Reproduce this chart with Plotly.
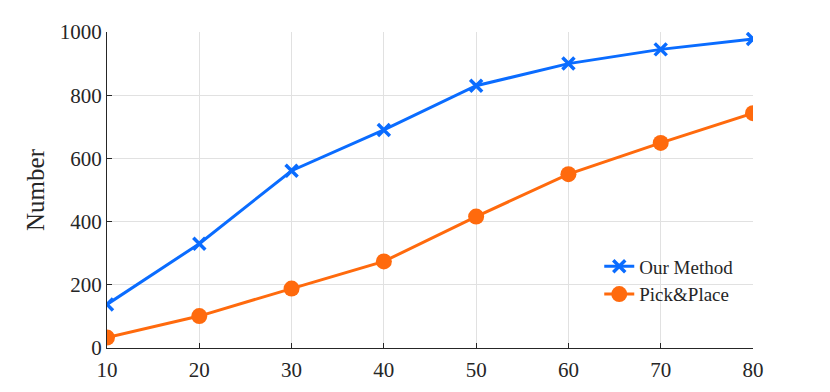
import plotly.graph_objects as go

x_vals = [10, 20, 30, 40, 50, 60, 70, 80]
our_method = [138, 330, 561, 690, 830, 900, 945, 978]
pick_place = [33, 101, 188, 274, 416, 550, 649, 743]
x_ticks = [10, 20, 30, 40, 50, 60, 70, 80]
y_ticks = [0, 200, 400, 600, 800, 1000]

fig = go.Figure()
fig.add_trace(go.Scatter(x=x_vals, y=our_method, name='Our Method', mode='lines+markers',
                         line=dict(color='#0A6CFF', width=3),
                         marker=dict(symbol='x-thin', size=12, line=dict(color='#0A6CFF', width=3.5))))
fig.add_trace(go.Scatter(x=x_vals, y=pick_place, name='Pick&Place', mode='lines+markers',
                         line=dict(color='#FF6A0D', width=3),
                         marker=dict(symbol='circle', size=16, color='#FF6A0D')))

# page body has an 8px margin, so the margins are shifted to compensate
fig.update_layout(
    width=830, height=392,
    margin=dict(l=99, r=85, t=21, b=52),
    paper_bgcolor='white', plot_bgcolor='white',
    font=dict(family='Liberation Serif, Times New Roman, serif', size=21, color='#262626'),
    legend=dict(x=0.762, y=0.318, xanchor='left', yanchor='top', bgcolor='rgba(0,0,0,0)',
                font=dict(size=19), tracegroupgap=0, itemwidth=30),
    showlegend=True,
)
fig.update_xaxes(range=[10, 80], tickvals=x_ticks, showgrid=True, gridcolor='#e1e1e1', gridwidth=1,
                 showline=True, linecolor='#262626', linewidth=1.2, zeroline=False,
                 ticks='inside', ticklen=5, tickcolor='#262626', ticklabelstandoff=3)
fig.update_yaxes(range=[0, 1000], tickvals=y_ticks, showgrid=True, gridcolor='#e1e1e1', gridwidth=1,
                 showline=True, linecolor='#262626', linewidth=1.2, zeroline=False,
                 ticks='inside', ticklen=5, tickcolor='#262626',
                 title=dict(text='Number', standoff=7))

fig.write_html("out.html")
